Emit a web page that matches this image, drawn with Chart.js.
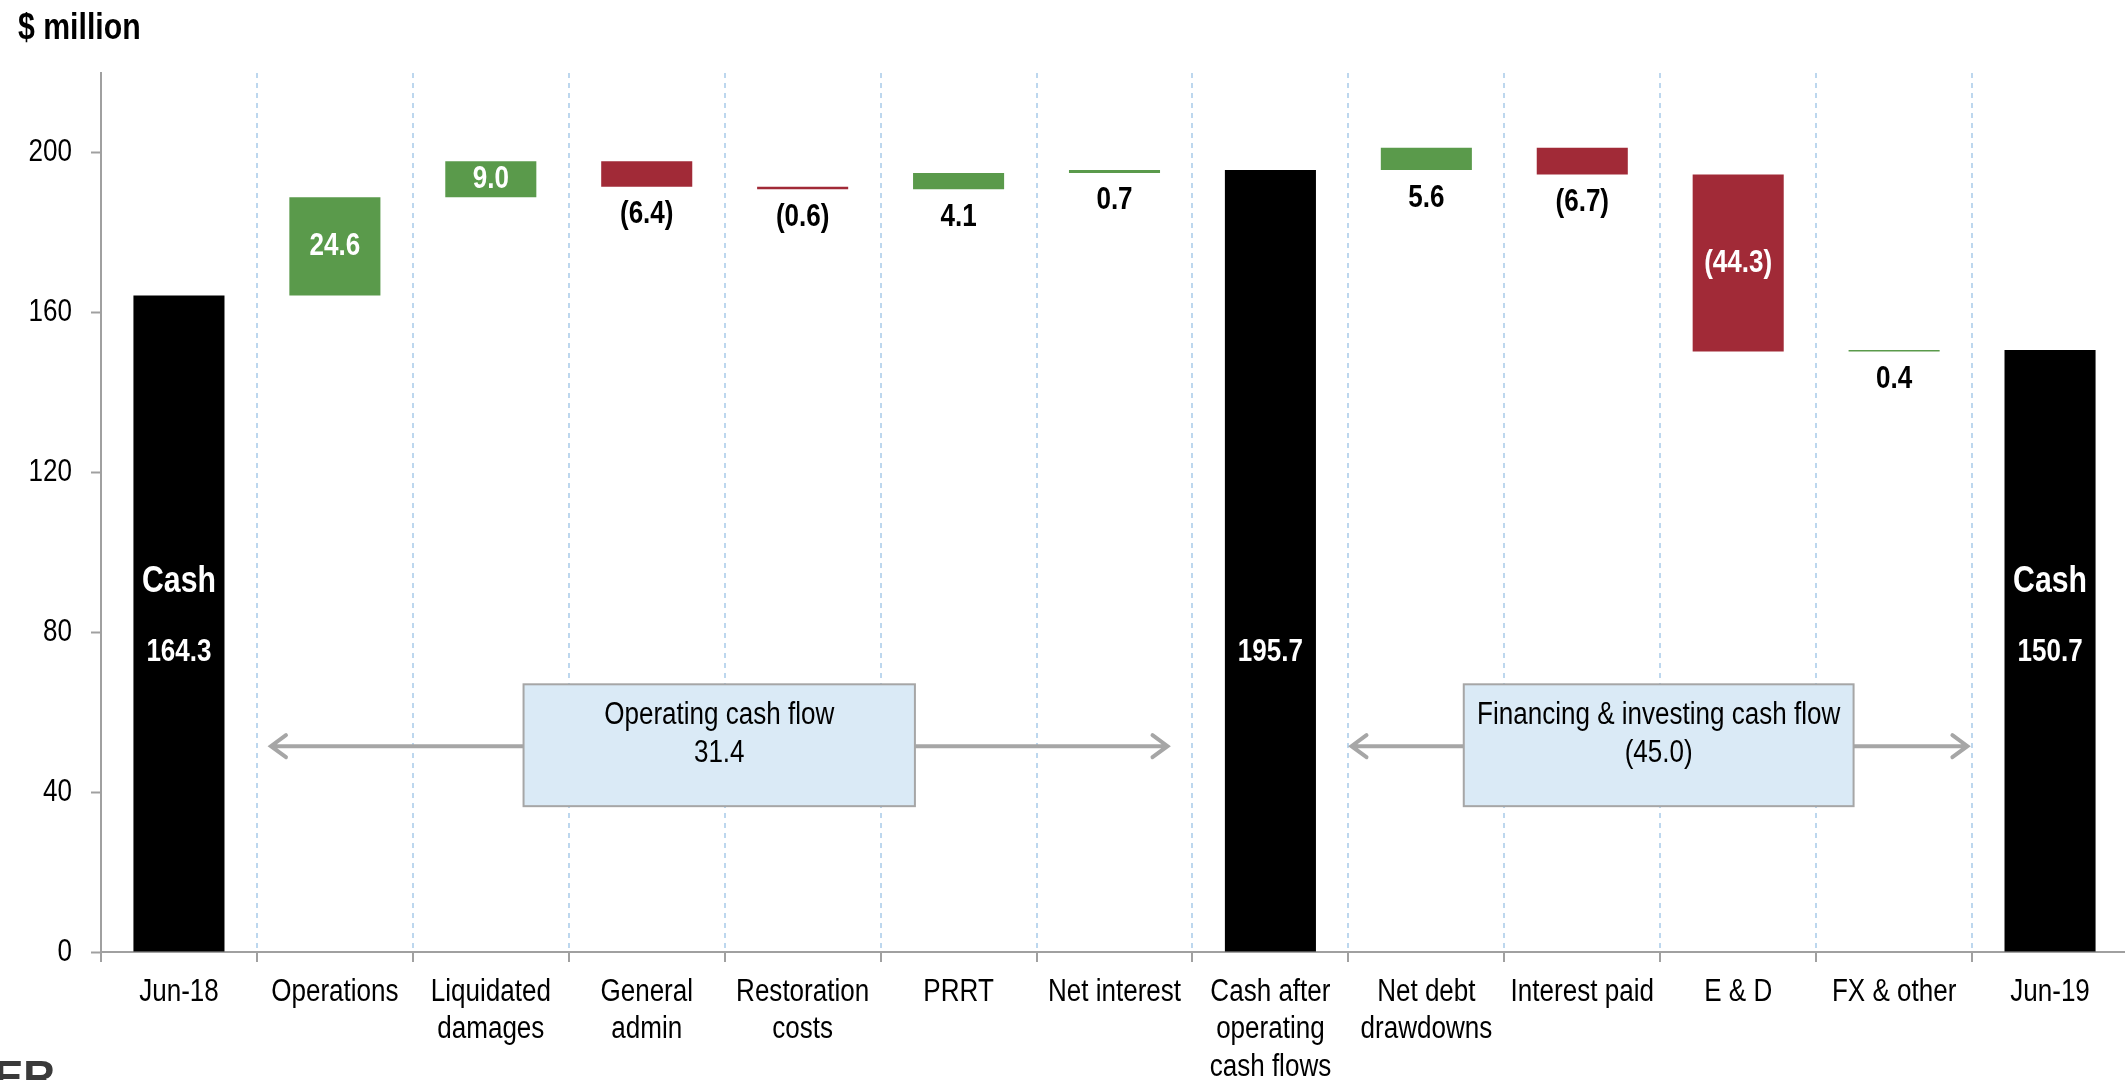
<!DOCTYPE html>
<html>
<head>
<meta charset="utf-8">
<script src="https://cdn.jsdelivr.net/npm/chart.js@4.4.1/dist/chart.umd.min.js"></script>
<style>
  html, body { margin: 0; padding: 0; background: #fff; overflow: hidden; width: 2125px; height: 1080px; }
  #wrap { position: relative; width: 2128px; height: 1080px; }
  #title { position: absolute; left: 18px; top: 6px; font: bold 36px 'Liberation Sans', sans-serif; color: #000; transform: scaleX(0.84); transform-origin: left top; white-space: nowrap; }
  #logo { position: absolute; left: -6px; top: 1052px; font: bold 44px 'Liberation Sans', sans-serif; color: #3a3a3a; }
</style>
</head>
<body>
<div id="wrap">
  <canvas id="c" width="2128" height="1080"></canvas>
  <div id="title">$ million</div>
  <div id="logo">ER</div>
</div>
<script>
// ---- Data ----
const categories = [
  ['Jun-18'], ['Operations'], ['Liquidated', 'damages'], ['General', 'admin'],
  ['Restoration', 'costs'], ['PRRT'], ['Net interest'],
  ['Cash after', 'operating', 'cash flows'], ['Net debt', 'drawdowns'],
  ['Interest paid'], ['E & D'], ['FX & other'], ['Jun-19']
];
const openingCash = 164.3;
const operatingChanges = [24.6, 9.0, -6.4, -0.6, 4.1, 0.7];
const cashAfterOperating = 195.7;
const financingChanges = [5.6, -6.7, -44.3, 0.4];
const closingCash = 150.7;
const operatingCashFlow = 31.4;
const financingInvestingCashFlow = -45.0;
const yTicks = [0, 40, 80, 120, 160, 200];

// ---- Build waterfall table from the values ----
const ranges = [], labelValues = [], isTotal = [], totalTitles = [];
function addTotal(v, title) { ranges.push([0, v]); labelValues.push(v); isTotal.push(true); totalTitles.push(title); }
function addChanges(start, changes) {
  let run = start;
  changes.forEach(d => {
    const nxt = Math.round((run + d) * 10) / 10;
    ranges.push([run, nxt]); labelValues.push(d); isTotal.push(false); totalTitles.push('');
    run = nxt;
  });
}
addTotal(openingCash, 'Cash');
addChanges(openingCash, operatingChanges);
addTotal(cashAfterOperating, '');
addChanges(cashAfterOperating, financingChanges);
addTotal(closingCash, 'Cash');

const GREEN = '#5A9A4B', RED = '#A12A37', BLACK = '#000000';
const colors = labelValues.map((v, i) => isTotal[i] ? BLACK : (v >= 0 ? GREEN : RED));
const FONT = "'Liberation Sans', Arial, sans-serif";
const fmt = v => v < 0 ? '(' + Math.abs(v).toFixed(1) + ')' : v.toFixed(1);

// Emulate a narrow (Arial Narrow-like) face: draw every canvas text horizontally condensed
const canvas = document.getElementById('c');
const ctx2d = canvas.getContext('2d');
const NARROW = 0.84;
const origFillText = ctx2d.fillText.bind(ctx2d);
ctx2d.fillText = function (text, x, y, maxWidth) {
  this.save();
  this.translate(x, y);
  this.scale(NARROW, 1);
  origFillText(text, 0, 0);
  this.restore();
};

const labelPlugin = {
  id: 'wfLabels',
  afterDatasetsDraw(chart) {
    const ctx = chart.ctx, ys = chart.scales.y;
    const meta = chart.getDatasetMeta(0);
    ctx.save();
    ctx.textAlign = 'center';
    ctx.textBaseline = 'middle';
    meta.data.forEach((bar, i) => {
      const v = labelValues[i];
      if (isTotal[i]) {
        ctx.fillStyle = '#fff';
        if (totalTitles[i]) {
          ctx.font = 'bold 36px ' + FONT;
          ctx.fillText(totalTitles[i], bar.x, ys.getPixelForValue(92.7));
        }
        ctx.font = 'bold 31px ' + FONT;
        ctx.fillText(fmt(v), bar.x, ys.getPixelForValue(75));
      } else {
        const top = Math.min(bar.y, bar.base), bottom = Math.max(bar.y, bar.base);
        ctx.font = 'bold 31px ' + FONT;
        if (bottom - top >= 30) {
          ctx.fillStyle = '#fff';
          ctx.fillText(fmt(v), bar.x, (top + bottom) / 2);
        } else {
          ctx.fillStyle = '#000';
          ctx.fillText(fmt(v), bar.x, bottom + 28);
        }
      }
    });
    ctx.restore();
  }
};

function drawArrow(ctx, x1, x2, y) {
  ctx.save();
  ctx.strokeStyle = '#A6A6A6';
  ctx.lineWidth = 4;
  ctx.lineCap = 'round';
  ctx.beginPath();
  ctx.moveTo(x1, y); ctx.lineTo(x2, y);
  ctx.moveTo(x1 + 15, y - 11); ctx.lineTo(x1, y); ctx.lineTo(x1 + 15, y + 11);
  ctx.moveTo(x2 - 15, y - 11); ctx.lineTo(x2, y); ctx.lineTo(x2 - 15, y + 11);
  ctx.stroke();
  ctx.restore();
}
function drawBox(ctx, x1, x2, y1, y2, lines) {
  ctx.save();
  ctx.fillStyle = '#DAEAF6';
  ctx.strokeStyle = '#A6A6A6';
  ctx.lineWidth = 2;
  ctx.fillRect(x1, y1, x2 - x1, y2 - y1);
  ctx.strokeRect(x1, y1, x2 - x1, y2 - y1);
  ctx.fillStyle = '#000';
  ctx.font = '31px ' + FONT;
  ctx.textAlign = 'center';
  ctx.textBaseline = 'middle';
  const cx = (x1 + x2) / 2;
  ctx.fillText(lines[0], cx, y1 + 31);
  ctx.fillText(lines[1], cx, y1 + 69);
  ctx.restore();
}
const annotPlugin = {
  id: 'flows',
  afterDraw(chart) {
    const ctx = chart.ctx, xs = chart.scales.x, ys = chart.scales.y;
    const ay = ys.getPixelForValue(51.5);
    const bTop = ys.getPixelForValue(67), bBot = ys.getPixelForValue(36.5);
    drawArrow(ctx, xs.getPixelForValue(0.59), xs.getPixelForValue(6.34), ay);
    drawBox(ctx, xs.getPixelForValue(2.21), xs.getPixelForValue(4.72), bTop, bBot,
      ['Operating cash flow', fmt(operatingCashFlow)]);
    drawArrow(ctx, xs.getPixelForValue(7.52), xs.getPixelForValue(11.47), ay);
    drawBox(ctx, xs.getPixelForValue(8.24), xs.getPixelForValue(10.74), bTop, bBot,
      ['Financing & investing cash flow', fmt(financingInvestingCashFlow)]);
  }
};

new Chart(canvas, {
  type: 'bar',
  data: {
    labels: categories,
    datasets: [{
      data: ranges,
      backgroundColor: colors,
      borderWidth: 0,
      categoryPercentage: 1.0,
      barPercentage: 0.584
    }]
  },
  options: {
    responsive: false,
    animation: false,
    events: [],
    layout: { padding: { top: 73, left: 0, right: 0, bottom: 0 } },
    plugins: { legend: { display: false }, tooltip: { enabled: false } },
    scales: {
      x: {
        offset: true,
        grid: {
          offset: true, color: '#BDD7EE', lineWidth: 2,
          drawOnChartArea: true, drawTicks: true,
          tickLength: 10, tickColor: '#A0A0A0', tickWidth: 2, tickBorderDash: []
        },
        border: { display: true, color: '#A0A0A0', width: 2, dash: [5, 5] },
        ticks: {
          color: '#000', font: { family: FONT, size: 31, lineHeight: 1.2 },
          padding: 12, maxRotation: 0, minRotation: 0, autoSkip: false
        },
        afterFit(s) { s.height = 128; }
      },
      y: {
        min: 0, max: 220,
        afterBuildTicks(s) { s.ticks = yTicks.map(v => ({ value: v })); },
        grid: {
          drawOnChartArea: false, drawTicks: true,
          tickLength: 10, tickColor: '#A0A0A0', tickWidth: 2
        },
        border: { display: true, color: '#A0A0A0', width: 2 },
        ticks: { color: '#000', font: { family: FONT, size: 31 }, padding: 19 },
        afterFit(s) { s.width = 101; }
      }
    }
  },
  plugins: [labelPlugin, annotPlugin]
});
</script>
</body>
</html>
